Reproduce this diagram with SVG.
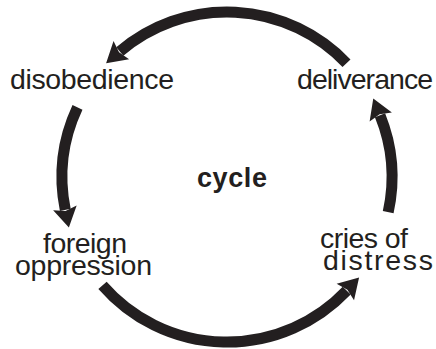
<svg xmlns="http://www.w3.org/2000/svg" width="436" height="349" viewBox="0 0 436 349">
<style>
.lbl{font-family:"Liberation Sans",Arial,Helvetica,sans-serif;font-size:28.5px;fill:#231f20}
.title{font-family:"Liberation Sans",Arial,Helvetica,sans-serif;font-size:27px;font-weight:bold;fill:#231f20}
.arc{fill:none;stroke:#231f20;stroke-width:11;stroke-linecap:butt;marker-end:url(#head)}
</style>
<defs>
<marker id="head" markerUnits="userSpaceOnUse" orient="auto" refX="0" refY="0" markerWidth="40" markerHeight="40" overflow="visible">
<path d="M18,0 L-2,-12 L1,0 L-2,12 Z" fill="#231f20"/>
</marker>
</defs>
<rect width="436" height="349" fill="#ffffff"/>
<g id="connectors">
<path class="arc" d="M346.5,63.2 A165,165 0 0 0 119.8,51.5"/>
<path class="arc" d="M77.5,107.3 A165,165 0 0 0 65.3,209.9"/>
<path class="arc" d="M102.5,285.3 A165,165 0 0 0 346.7,290.6"/>
<path class="arc" d="M388.2,212.1 A165,165 0 0 0 380.0,115.2"/>
</g>
<g id="center"><text class="title" x="197" y="187" textLength="70" lengthAdjust="spacing">cycle</text></g>
<g id="disobedience"><text class="lbl" x="10" y="89" textLength="164" lengthAdjust="spacing">disobedience</text></g>
<g id="deliverance"><text class="lbl" x="297" y="89" textLength="136" lengthAdjust="spacing">deliverance</text></g>
<g id="foreign-oppression">
<text class="lbl" x="43" y="253" textLength="84" lengthAdjust="spacing">foreign</text>
<text class="lbl" x="15" y="275" textLength="137" lengthAdjust="spacing">oppression</text>
</g>
<g id="cries-of-distress">
<text class="lbl" x="320" y="248" textLength="88" lengthAdjust="spacing">cries of</text>
<text class="lbl" x="323" y="270" textLength="110" lengthAdjust="spacing">distress</text>
</g>
</svg>
